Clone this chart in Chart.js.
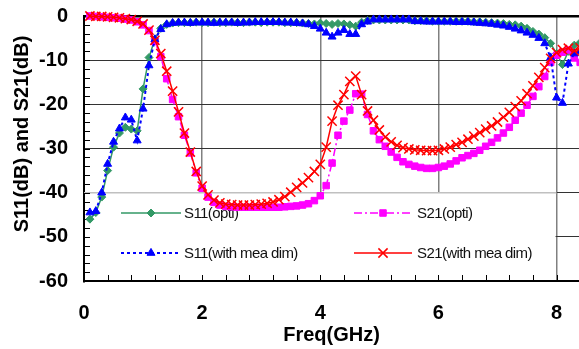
<!DOCTYPE html>
<html><head><meta charset="utf-8">
<script src="https://cdn.jsdelivr.net/npm/chart.js@4.4.1/dist/chart.umd.min.js"></script>
<style>html,body{margin:0;padding:0;background:#fff;overflow:hidden}#wrap{width:579px;height:349px}</style>
</head><body><div id="wrap"><canvas id="c" width="579" height="349"></canvas></div>
<script>
// ---- data ----
const freq = [
 0.1,0.2,0.3,0.4,0.5,0.6,0.7,0.8,0.9,1.0,
 1.1,1.2,1.3,1.4,1.5,1.6,1.7,1.8,1.9,2.0,
 2.1,2.2,2.3,2.4,2.5,2.6,2.7,2.8,2.9,3.0,
 3.1,3.2,3.3,3.4,3.5,3.6,3.7,3.8,3.9,4.0,
 4.1,4.2,4.3,4.4,4.5,4.6,4.7,4.8,4.9,5.0,
 5.1,5.2,5.3,5.4,5.5,5.6,5.7,5.8,5.9,6.0,
 6.1,6.2,6.3,6.4,6.5,6.6,6.7,6.8,6.9,7.0,
 7.1,7.2,7.3,7.4,7.5,7.6,7.7,7.8,7.9,8.0,
 8.1,8.2,8.3,8.4];
const s11Opti = [
 -46,-44.5,-41,-35,-29.7,-26.5,-25.2,-25.6,-26,-16.5,
 -9.4,-5.2,-2.8,-1.9,-1.6,-1.5,-1.5,-1.5,-1.4,-1.5,
 -1.5,-1.4,-1.5,-1.5,-1.4,-1.5,-1.5,-1.4,-1.4,-1.5,
 -1.4,-1.4,-1.4,-1.5,-1.5,-1.5,-1.6,-1.7,-1.8,-1.6,
 -1.7,-1.9,-1.7,-1.8,-2.0,-2.3,-1.4,-1.0,-0.9,-0.9,
 -0.9,-0.9,-0.9,-0.9,-0.9,-1.1,-1.1,-1.1,-1.2,-1.2,
 -1.2,-1.2,-1.2,-1.2,-1.2,-1.3,-1.3,-1.4,-1.5,-1.6,
 -1.7,-1.9,-2.0,-2.3,-2.8,-3.5,-4.1,-4.9,-6.2,-8.5,
 -11,-8,-6.6,-6];
const s21Opti = [
 0,-0.1,-0.2,-0.3,-0.4,-0.5,-0.7,-0.9,-1.3,-2.0,
 -3.3,-5.8,-9.2,-14.2,-18.9,-22.8,-27,-31,-35.5,-39,
 -41,-42.2,-42.8,-43.1,-43.2,-43.3,-43.3,-43.3,-43.3,-43.3,
 -43.3,-43.3,-43.3,-43.2,-43.1,-43.0,-42.8,-42.5,-41.8,-40.7,
 -38.4,-33.3,-27,-23.8,-21.3,-17.6,-17.7,-22.3,-26,-28,
 -29.5,-30.8,-32,-33.0,-33.6,-34.0,-34.3,-34.5,-34.5,-34.3,
 -34.0,-33.5,-32.8,-32.1,-31.6,-31.1,-30.4,-29.5,-28.6,-27.6,
 -26.5,-25.2,-23.6,-22.0,-20.2,-18.2,-16.0,-13.7,-10.5,-8.9,
 -8.2,-7.7,-9.5,-10.5];
const s11Mea = [
 -44.5,-44.2,-40,-33.5,-28.5,-25.5,-23,-23.5,-28.2,-21,
 -11.2,-5.3,-3.0,-1.9,-1.6,-1.5,-1.5,-1.6,-1.5,-1.5,
 -1.5,-1.6,-1.5,-1.5,-1.5,-1.6,-1.5,-1.5,-1.4,-1.4,
 -1.4,-1.4,-1.4,-1.5,-1.5,-1.6,-1.7,-1.9,-2.3,-2.9,
 -3.8,-4.7,-3.8,-3.2,-4.1,-4.1,-1.9,-1.3,-0.8,-0.8,
 -0.8,-0.8,-0.8,-0.8,-0.8,-1.2,-1.2,-1.3,-1.3,-1.3,
 -1.3,-1.3,-1.4,-1.4,-1.4,-1.5,-1.6,-1.7,-1.8,-2.0,
 -2.2,-2.5,-2.9,-3.3,-3.8,-4.3,-5.0,-6.2,-9.4,-18.5,
 -19.7,-10.8,-8.5,-8.0];
const s21Mea = [
 0,-0.1,-0.1,-0.2,-0.3,-0.4,-0.6,-0.8,-1.2,-1.8,
 -3.2,-5.5,-8.5,-12.5,-17,-21.7,-26.5,-30.8,-35.2,-38.5,
 -40.5,-41.7,-42.3,-42.6,-42.7,-42.8,-42.8,-42.8,-42.7,-42.6,
 -42.4,-42.1,-41.6,-40.9,-39.9,-38.8,-37.8,-36.6,-35.2,-33.6,
 -29.7,-23.8,-20.2,-17.8,-14.8,-13.6,-17.8,-21.5,-23.6,-25.8,
 -27.4,-28.5,-29.3,-29.8,-30.1,-30.3,-30.4,-30.5,-30.5,-30.4,
 -30.1,-29.7,-29.1,-28.6,-27.9,-27.2,-26.4,-25.6,-24.9,-24.0,
 -22.9,-21.8,-20.5,-19.2,-17.6,-15.8,-13.9,-11.7,-9.6,-8.3,
 -7.6,-7.3,-7.9,-7.2];
const xTicks = [0,2,4,6,8];
const yTicks = [0,-10,-20,-30,-40,-50,-60];
const seriesNames = ['S11(opti)','S21(opti)','S11(with mea dim)','S21(with mea dim)'];
const xTitle = 'Freq(GHz)';
const yTitle = 'S11(dB) and S21(dB)';

// ---- styles ----
const FONT = '"Liberation Sans", Arial, sans-serif';
const GREEN = '#339966', MAGENTA = '#ff00ff', BLUE = '#0000ff', RED = '#ff0000';
const toXY = arr => freq.map((f, i) => ({x: f, y: arr[i]}));

const styles = {
  'S11(opti)': {color: GREEN, width: 1.5, dash: [], point: 'rectRot', r: 4},
  'S21(opti)': {color: MAGENTA, width: 1.5, dash: [8,3,2,3], point: 'rect', r: 4.6},
  'S11(with mea dim)': {color: BLUE, width: 2, dash: [3,3], point: 'triangle', r: 4.6},
  'S21(with mea dim)': {color: RED, width: 1.5, dash: [], point: 'crossRot', r: 6.5}
};
function ds(name, arr) {
  const s = styles[name];
  return {
    label: name, data: toXY(arr), showLine: true, tension: 0,
    borderColor: s.color, backgroundColor: s.color, borderWidth: s.width, borderDash: s.dash,
    pointStyle: s.point, pointRadius: s.r, pointHoverRadius: s.r,
    pointBackgroundColor: s.color, pointBorderColor: s.color,
    pointBorderWidth: s.point === 'crossRot' ? 1.5 : 1, clip: 8
  };
}

function drawSample(ctx, name, x0, x1, y) {
  const s = styles[name];
  ctx.save();
  ctx.strokeStyle = s.color; ctx.fillStyle = s.color;
  ctx.lineWidth = s.width; ctx.setLineDash(s.dash);
  ctx.beginPath(); ctx.moveTo(x0, y); ctx.lineTo(x1, y); ctx.stroke();
  ctx.setLineDash([]);
  ctx.lineWidth = s.point === 'crossRot' ? 1.5 : 1;
  Chart.helpers.drawPoint(ctx, {pointStyle: s.point, radius: s.r, borderWidth: ctx.lineWidth, rotation: 0}, (x0 + x1) / 2, y);
  ctx.restore();
}

const decor = {
  id: 'decor',
  beforeDatasetsDraw(chart) {
    const {ctx, chartArea: a, scales: {x, y}} = chart;
    const x8 = x.getPixelForValue(8), y40 = y.getPixelForValue(-40);
    ctx.save();
    // legend box
    ctx.fillStyle = '#fff';
    ctx.fillRect(a.left + 1, y40, x8 - a.left - 2, a.bottom - 1 - y40);
    ctx.strokeStyle = '#c0c0c0'; ctx.lineWidth = 1.5;
    ctx.beginPath(); ctx.moveTo(a.left, y40); ctx.lineTo(x8, y40); ctx.stroke();
    // legend entries
    const rows = [213, 253];
    const cols = [[121, 181, 184], [354, 412, 417]];
    ctx.font = '15px ' + FONT;
    if ('letterSpacing' in ctx) ctx.letterSpacing = '-0.6px';
    ctx.textBaseline = 'middle'; ctx.textAlign = 'left';
    seriesNames.forEach((n, i) => {
      const r = rows[Math.floor(i / 2)], c = cols[i % 2];
      drawSample(ctx, n, c[0], c[1], r);
      ctx.fillStyle = '#111';
      ctx.fillText(n, c[2], r + 1);
    });
    if ('letterSpacing' in ctx) ctx.letterSpacing = '0px';
    // minor inward ticks
    ctx.strokeStyle = '#000'; ctx.lineWidth = 1;
    for (let v = -60; v <= 0; v += 2) {
      const py = Math.round(y.getPixelForValue(v)) + 0.5;
      ctx.beginPath(); ctx.moveTo(a.left, py); ctx.lineTo(a.left + 6, py); ctx.stroke();
    }
    for (let k = 0; k <= 20; k++) {
      const px = Math.round(x.getPixelForValue(k * 0.4)) + 0.5;
      ctx.beginPath(); ctx.moveTo(px, a.bottom); ctx.lineTo(px, a.bottom - 6); ctx.stroke();
    }
    ctx.restore();
  },
  afterDraw(chart) {
    const {ctx} = chart;
    ctx.save();
    ctx.font = 'bold 20px ' + FONT;
    ctx.fillStyle = '#000';
    ctx.textAlign = 'center'; ctx.textBaseline = 'middle';
    ctx.translate(22, 134); ctx.rotate(-Math.PI / 2);
    ctx.fillText(yTitle, 0, 0);
    ctx.restore();
  }
};

new Chart(document.getElementById('c'), {
  type: 'scatter',
  data: {
    datasets: [
      ds('S21(with mea dim)', s21Mea),
      ds('S11(with mea dim)', s11Mea),
      ds('S21(opti)', s21Opti),
      ds('S11(opti)', s11Opti)
    ]
  },
  options: {
    responsive: false, animation: false, devicePixelRatio: 1,
    layout: {padding: {top: 16, right: 0, left: 0, bottom: 0}, autoPadding: false},
    plugins: {legend: {display: false}, tooltip: {enabled: false}},
    scales: {
      x: {
        type: 'linear', min: 0, max: 8.38,
        afterBuildTicks: s => { s.ticks = xTicks.map(v => ({value: v})); },
        afterFit: s => { s.height = 68; s.paddingLeft = 0; s.paddingRight = 0; },
        ticks: {font: {family: FONT, size: 20, weight: 'bold'}, color: '#000', padding: 20, maxRotation: 0, autoSkip: false},
        grid: {color: '#808080', lineWidth: 1.5, drawTicks: false},
        border: {color: '#000', width: 2},
        title: {display: true, text: xTitle, font: {family: FONT, size: 20, weight: 'bold'}, color: '#000', padding: {top: 0, bottom: 2}}
      },
      y: {
        type: 'linear', min: -60, max: 0,
        afterBuildTicks: s => { s.ticks = yTicks.map(v => ({value: v})); },
        afterFit: s => { s.width = 84; s.paddingTop = 0; s.paddingBottom = 0; },
        ticks: {font: {family: FONT, size: 20, weight: 'bold'}, color: '#000', padding: 16},
        grid: {
          color: c => (c.tick && c.tick.value === 0) ? '#000' : '#333',
          lineWidth: c => (c.tick && c.tick.value === 0) ? 2.5 : 1,
          drawTicks: false
        },
        border: {color: '#000', width: 2}
      }
    }
  },
  plugins: [decor]
});
</script></body></html>
